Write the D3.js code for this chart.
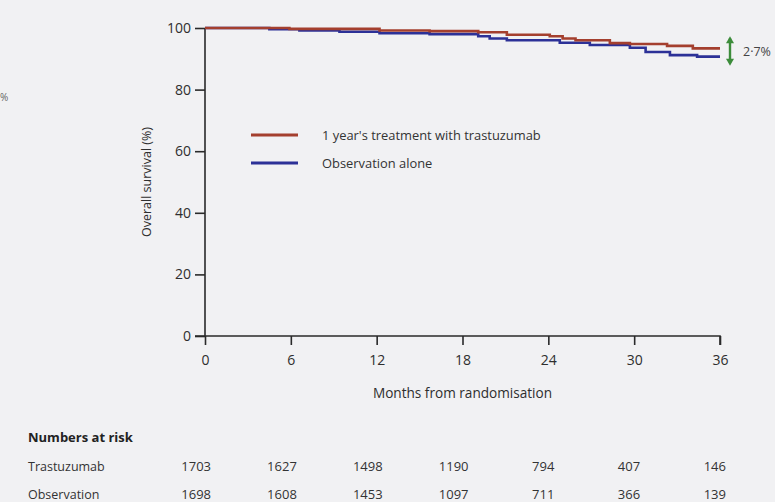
<!DOCTYPE html>
<html>
<head>
<meta charset="utf-8">
<script src="https://cdn.jsdelivr.net/npm/d3@7/dist/d3.min.js"></script>
<style>
  html, body { margin: 0; padding: 0; background: #f1f1f3; }
  svg { display: block; }
  text { font-family: "Open Sans", "Noto Sans", sans-serif; fill: #2e2e2e; }
</style>
</head>
<body>
<svg id="chart" width="775" height="502"></svg>
<script>
// Kaplan–Meier overall survival, steps as [month, survival %]
const trastuzumabSteps = [
  [0, 100], [5.9, 99.7], [12.2, 99.2], [15.7, 99.0], [19.1, 98.6],
  [21.1, 97.8], [24.1, 97.3], [25.0, 96.6], [25.9, 96.0], [28.3, 95.1],
  [29.7, 94.8], [32.3, 94.2], [34.1, 93.4], [36, 93.4]
];
const observationSteps = [
  [0, 100], [4.5, 99.6], [6.6, 99.2], [9.4, 98.8], [12.2, 98.3],
  [15.7, 98.0], [19.1, 97.3], [19.9, 96.6], [21.1, 96.0], [24.8, 95.2],
  [26.9, 94.5], [29.7, 93.6], [30.8, 92.2], [32.5, 91.2], [34.4, 90.7], [36, 90.7]
];
const seriesNames = ["1 year's treatment with trastuzumab", "Observation alone"];
const seriesColors = ["#a43f2e", "#2c3197"];

const monthTicks = [0, 6, 12, 18, 24, 30, 36];
const survivalTicks = [0, 20, 40, 60, 80, 100];

const riskLabels = ["Trastuzumab", "Observation"];
const riskTrastuzumab = [1703, 1627, 1498, 1190, 794, 407, 146];
const riskObservation = [1698, 1608, 1453, 1097, 711, 366, 139];

const differenceLabel = "2·7%";

const svg = d3.select("#chart");

const x = d3.scaleLinear().domain([0, 36]).range([205, 720]);
const y = d3.scaleLinear().domain([0, 100]).range([336, 28]);

// stray mark at the page edge
svg.append("text").attr("x", 0).attr("y", 101)
  .attr("font-size", 10).style("fill", "#666").text("%");

// y axis
const yAxis = svg.append("g").attr("transform", `translate(${x(0)},0)`)
  .call(d3.axisLeft(y).tickValues(survivalTicks).tickSize(10).tickPadding(4));
// x axis
const xAxis = svg.append("g").attr("transform", `translate(0,${y(0)})`)
  .call(d3.axisBottom(x).tickValues(monthTicks).tickSize(9).tickPadding(10));

[yAxis, xAxis].forEach(g => {
  g.select(".domain").attr("stroke", "#2a2a2a").attr("stroke-width", 1.6);
  g.selectAll(".tick line").attr("stroke", "#2a2a2a").attr("stroke-width", 1.6);
  g.selectAll(".tick text").attr("font-size", 14)
    .attr("font-family", "\"Open Sans\", sans-serif").style("fill", "#2e2e2e");
});
// the y axis domain path runs from 0 to 100; extend the x-axis baseline left to the 0 tick
xAxis.select(".domain").attr("d", `M${x(0) - 10},0H${x(36)}V9`);
yAxis.select(".domain").attr("d", `M0,${y(100)}V${y(0)}`);

// axis titles
svg.append("text")
  .attr("transform", `translate(151,${(y(0) + y(100)) / 2}) rotate(-90)`)
  .attr("text-anchor", "middle").attr("font-size", 12.5)
  .text("Overall survival (%)");
svg.append("text")
  .attr("x", (x(0) + x(36)) / 2).attr("y", 398)
  .attr("text-anchor", "middle").attr("font-size", 13.6)
  .text("Months from randomisation");

// survival curves
const line = d3.line()
  .x(d => x(d[0])).y(d => y(d[1]))
  .curve(d3.curveStepAfter);
[observationSteps, trastuzumabSteps].forEach((s, i) => {
  svg.append("path").datum(s)
    .attr("fill", "none")
    .attr("stroke", seriesColors[1 - i])
    .attr("stroke-width", 2.6)
    .attr("d", line);
});

// legend
const legend = svg.append("g");
seriesNames.forEach((name, i) => {
  const ly = 135 + i * 28;
  legend.append("line")
    .attr("x1", 251).attr("x2", 298).attr("y1", ly).attr("y2", ly)
    .attr("stroke", seriesColors[i]).attr("stroke-width", 2.8);
  legend.append("text")
    .attr("x", 322).attr("y", ly + 4.5)
    .attr("font-size", 12.9).style("fill", "#333")
    .text(name);
});

// difference marker at 36 months
const endT = trastuzumabSteps[trastuzumabSteps.length - 1][1];
const endO = observationSteps[observationSteps.length - 1][1];
const ax = 730;
const arrowColor = "#3c8c3a";
svg.append("line")
  .attr("x1", ax).attr("x2", ax)
  .attr("y1", y(endT) - 10).attr("y2", y(endO) + 6)
  .attr("stroke", arrowColor).attr("stroke-width", 2.4);
svg.append("path")
  .attr("d", `M${ax - 4},${y(endT) - 5}L${ax},${y(endT) - 12}L${ax + 4},${y(endT) - 5}Z`)
  .attr("fill", arrowColor);
svg.append("path")
  .attr("d", `M${ax - 4},${y(endO) + 2}L${ax},${y(endO) + 9}L${ax + 4},${y(endO) + 2}Z`)
  .attr("fill", arrowColor);
svg.append("text")
  .attr("x", 743).attr("y", (y(endT) + y(endO)) / 2 + 4)
  .attr("font-size", 12.5).style("fill", "#444")
  .text(differenceLabel);

// numbers at risk table
svg.append("text").attr("x", 28).attr("y", 442)
  .attr("font-size", 13).attr("font-weight", "bold").style("fill", "#222")
  .text("Numbers at risk");
[riskTrastuzumab, riskObservation].forEach((row, r) => {
  const ry = 471 + r * 28;
  svg.append("text").attr("x", 28).attr("y", ry)
    .attr("font-size", 12.5).style("fill", "#333").text(riskLabels[r]);
  row.forEach((v, k) => {
    svg.append("text")
      .attr("x", x(monthTicks[k]) + 6).attr("y", ry)
      .attr("text-anchor", "end").attr("font-size", 13).style("fill", "#333")
      .text(v);
  });
});
</script>
</body>
</html>
